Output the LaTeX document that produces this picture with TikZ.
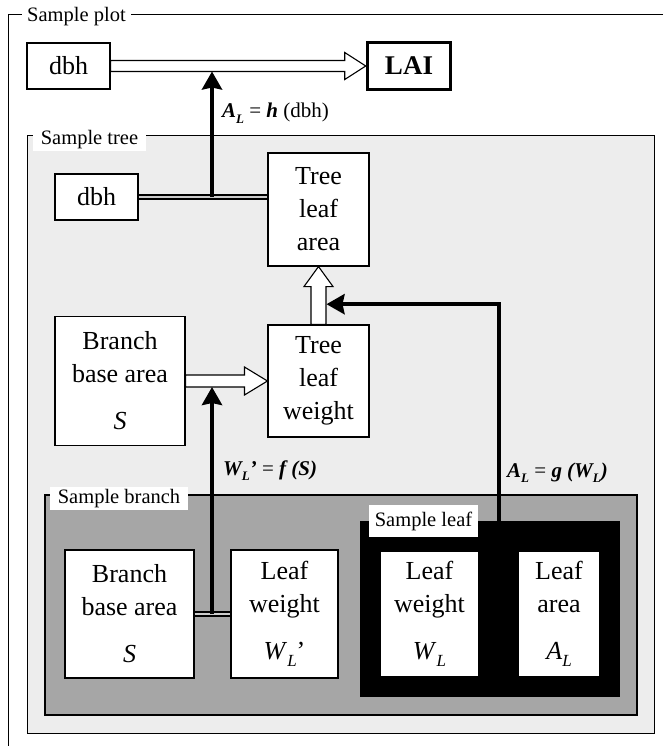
\documentclass[tikz,border=0pt]{standalone}
\usepackage{fontspec}
\setmainfont{Liberation Serif}
\usetikzlibrary{arrows.meta,calc}

% subscripts for box texts and for the relation labels
\newcommand\boxsub[1]{\raisebox{-0.28em}{\fontsize{17}{17}\selectfont\itshape #1}}
\newcommand\eqsub[1]{\raisebox{-0.28em}{\fontsize{13}{13}\selectfont\bfseries\itshape #1}}
\newcommand\bi[1]{{\bfseries\itshape #1}}

% open (white) block arrow pointing right: start, tip, shaft half width, head length, head half width
\newcommand\hollowright[5]{%
  \draw[hollow] let \p1=#1, \p2=#2 in
    (\x1,{\y1+#3}) -- ({\x2-#4},{\y1+#3}) -- ({\x2-#4},{\y1+#5}) -- (\x2,\y1)
    -- ({\x2-#4},{\y1-#5}) -- ({\x2-#4},{\y1-#3}) -- (\x1,{\y1-#3}) -- cycle;}
% open (white) block arrow pointing up
\newcommand\hollowup[5]{%
  \draw[hollow] let \p1=#1, \p2=#2 in
    ({\x1-#3},\y1) -- ({\x1-#3},{\y2-#4}) -- ({\x1-#5},{\y2-#4}) -- (\x1,\y2)
    -- ({\x1+#5},{\y2-#4}) -- ({\x1+#3},{\y2-#4}) -- ({\x1+#3},\y1) -- cycle;}

\tikzset{
  box/.style={draw=black, line width=1.1pt, fill=white, align=center,
    font=\fontsize{26}{33}\selectfont, inner sep=0pt},
  framelabel/.style={fill=white, inner sep=0pt, font=\fontsize{20.5}{20.5}\selectfont},
  eqlabel/.style={inner sep=0pt, anchor=base west, font=\fontsize{21}{21}\selectfont},
  hollow/.style={draw=black, line width=1.1pt, fill=white, line join=miter},
  linkbar/.style={draw=black, line width=2.2pt, double=gray!40, double distance=1.4pt},
  heavyarrow/.style={draw=black, line width=4pt, line join=miter,
    -{Stealth[length=18pt,width=20pt,inset=2pt]}},
}

\begin{document}
\begin{tikzpicture}[x=1pt,y=-1pt]
\useasboundingbox (0,0) rectangle (665,746);
\fill[white] (0,0) rectangle (665,746);

% ---- nested sampling frames
\draw[line width=1pt] (663,15) -- (8,15) -- (8,746);
\node[fill=white, inner xsep=5pt, inner ysep=1pt, font=\fontsize{20.5}{20.5}\selectfont] (plotlab) at (76.5,17) {Sample plot};

\filldraw[fill=gray!14, draw=black, line width=1pt] (27,136) rectangle (654,733);
\node[framelabel, minimum width=113pt, minimum height=24pt] (treelab) at (89.5,139.5) {Sample tree};

\filldraw[fill=gray!70, draw=black, line width=1.3pt] (45,495) rectangle (637,715);
\node[framelabel, minimum width=138pt, minimum height=23pt] (branchlab) at (119,498.5) {Sample branch};

\fill[black] (360,521) rectangle (620,697);
\node[framelabel, minimum width=109pt, minimum height=32pt] (leaflab) at (423.5,521) {Sample leaf};

% ---- plot level
\node[box, minimum width=83pt, minimum height=46pt] (dbhP) at (68.5,66) {dbh};
\node[box, line width=3.5pt, minimum width=83pt, minimum height=47pt,
  font=\fontsize{27}{27}\selectfont\bfseries] (lai) at (409,66) {LAI};

% ---- tree level
\node[box, minimum width=83pt, minimum height=46pt] (dbhT) at (96.5,197) {dbh};
\node[box, minimum width=101pt, minimum height=113pt] (tla) at (318.5,209.5) {Tree\\leaf\\area};
\node[box, minimum width=101pt, minimum height=112pt] (tlw) at (318.5,381) {Tree\\leaf\\weight};
\node[box, minimum width=130pt, minimum height=129pt] (bbaT) at (120,381) {Branch\\base area\\[14pt]\textit{S}};

% ---- branch level
\node[box, minimum width=129pt, minimum height=128pt] (bbaB) at (129.5,614) {Branch\\base area\\[14pt]\textit{S}};
\node[box, minimum width=107pt, minimum height=128pt] (lwB) at (284.5,614) {Leaf\\weight\\[14pt]\textit{W}\boxsub{L}’};

% ---- leaf level
\node[box, minimum width=99pt, minimum height=126pt] (lwL) at (429.5,614) {Leaf\\weight\\[14pt]\textit{W}\boxsub{L}};
\node[box, minimum width=82pt, minimum height=126pt] (laL) at (559,614) {Leaf\\area\\[14pt]\textit{A}\boxsub{L}};

% ---- scaling-up flow (open arrows)
\hollowright{(dbhP.east)}{(lai.west)}{5.5pt}{21pt}{13.5pt}
\hollowright{(bbaT.east)}{(tlw.west)}{6pt}{23pt}{14pt}
\hollowup{(tlw.north)}{(tla.south)}{7.5pt}{20pt}{14.5pt}

% ---- measured links between variables
\coordinate (xt) at (212,0);
\draw[linkbar] (dbhT.east) -- (dbhT.east -| tla.west);
\coordinate (jt) at (dbhT.east -| xt);
\draw[heavyarrow] (jt) -- ($(dbhP.east -| xt)+(0,5.5)$);

\draw[linkbar] (bbaB.east) -- (lwB.west);
\coordinate (jb) at (bbaB.east -| xt);
\draw[heavyarrow] (jb) -- ($(bbaT.east -| xt)+(0,6)$);

\coordinate (jl) at ($(lwL.east)!0.5!(laL.west)$);
\draw[heavyarrow] (jl) |- ($(tla.south)!0.65!(tlw.north)+(8,0)$);

% ---- relation labels
\node[eqlabel] (eqh) at (222,118) {\bi{A}\eqsub{L} = \bi{h} (dbh)};
\node[eqlabel] (eqf) at (223,475) {\bi{W}\eqsub{L}\bi{’} = \bi{f} \bi{(S)}};
\node[eqlabel] (eqg) at (507,477) {\bi{A}\eqsub{L} = \bi{g} \bi{(W}\eqsub{L}\bi{)}};
\end{tikzpicture}
\end{document}
